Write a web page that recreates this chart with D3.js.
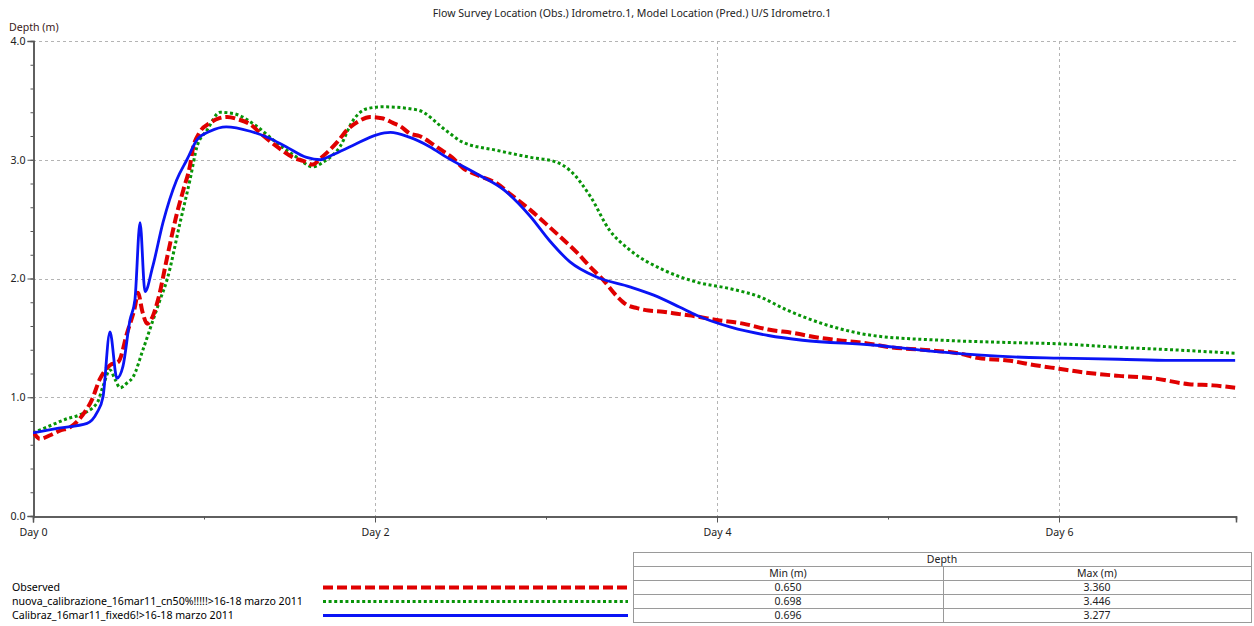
<!DOCTYPE html>
<html><head><meta charset="utf-8">
<script src="https://cdn.jsdelivr.net/npm/d3@7"></script>
<style>
body{margin:0;background:#fff;}
svg{display:block;font-family:"Noto Sans","Open Sans",sans-serif;}
</style></head>
<body><svg id="c" width="1254" height="626"></svg>
<script>
const titleText = "Flow Survey Location (Obs.) Idrometro.1, Model Location (Pred.) U/S Idrometro.1";
const yLabel = "Depth (m)";
const xTickDays = [0, 2, 4, 6];
const xTickLabels = ["Day 0", "Day 2", "Day 4", "Day 6"];
const yTickValues = [0, 1, 2, 3, 4];
const yTickLabels = ["0.0", "1.0", "2.0", "3.0", "4.0"];
const seriesNames = ["Observed", "nuova_calibrazione_16mar11_cn50%!!!!!>16-18 marzo 2011", "Calibraz_16mar11_fixed6!>16-18 marzo 2011"];
const tableMin = ["0.650", "0.698", "0.696"];
const tableMax = ["3.360", "3.446", "3.277"];

const obsDays  = [0,0.04,0.1,0.16,0.22,0.29,0.345,0.39,0.45,0.5,0.55,0.596,0.614,0.64,0.667,0.7,0.731,0.789,0.842,0.88,0.918,0.936,0.97,1.035,1.09,1.135,1.2,1.269,1.34,1.427,1.52,1.58,1.637,1.68,1.719,1.78,1.836,1.9,1.971,2.04,2.105,2.15,2.205,2.26,2.339,2.4,2.45,2.515,2.6,2.713,2.8,2.906,3.0,3.099,3.18,3.257,3.333,3.415,3.47,3.532,3.6,3.684,3.78,3.883,4.0,4.152,4.3,4.45,4.6,4.71,4.85,5.02,5.2,5.41,5.53,5.7,5.86,6.0,6.14,6.35,6.55,6.76,6.9,7.03];
const obsDepth = [0.71,0.65,0.68,0.72,0.75,0.85,0.98,1.15,1.27,1.3,1.54,1.76,1.88,1.72,1.62,1.68,1.82,2.21,2.55,2.75,2.95,3.1,3.22,3.31,3.35,3.36,3.34,3.3,3.21,3.11,3.02,2.99,2.96,3.01,3.06,3.15,3.25,3.32,3.36,3.35,3.31,3.28,3.22,3.2,3.13,3.07,3.02,2.93,2.87,2.8,2.7,2.58,2.46,2.33,2.22,2.1,1.99,1.85,1.78,1.75,1.73,1.72,1.7,1.68,1.65,1.62,1.57,1.54,1.5,1.48,1.46,1.42,1.4,1.37,1.33,1.31,1.27,1.24,1.21,1.18,1.16,1.11,1.1,1.08];

const nuovaDays  = [0,0.1,0.2,0.27,0.374,0.409,0.45,0.48,0.509,0.55,0.585,0.643,0.702,0.743,0.784,0.86,0.918,0.959,1.018,1.094,1.17,1.31,1.427,1.544,1.637,1.696,1.795,1.871,1.953,2.047,2.246,2.421,2.51,2.71,2.91,3.06,3.14,3.26,3.37,3.49,3.69,3.88,4.09,4.26,4.4,4.5,4.71,4.91,5.32,5.73,6.0,6.35,6.66,7.03];
const nuovaDepth = [0.7,0.76,0.82,0.85,0.95,1.09,1.23,1.15,1.08,1.12,1.17,1.4,1.65,1.82,1.99,2.47,2.83,3.11,3.25,3.4,3.39,3.28,3.14,3.02,2.94,2.98,3.11,3.33,3.43,3.446,3.42,3.24,3.15,3.08,3.02,2.98,2.91,2.69,2.41,2.24,2.07,1.97,1.91,1.84,1.74,1.68,1.58,1.52,1.48,1.46,1.45,1.42,1.4,1.37];

const calibDays  = [0,0.15,0.316,0.374,0.409,0.45,0.491,0.526,0.567,0.596,0.626,0.655,0.7,0.76,0.84,0.9,0.96,1.035,1.13,1.27,1.37,1.48,1.6,1.68,1.75,1.87,2.01,2.09,2.2,2.32,2.42,2.61,2.75,2.91,3.02,3.14,3.3,3.49,3.63,3.78,3.88,4.08,4.3,4.5,4.91,5.32,5.73,6.0,6.35,6.66,7.03];
const calibDepth = [0.7,0.74,0.78,0.87,1.0,1.55,1.16,1.26,1.65,1.82,2.47,1.89,2.1,2.47,2.83,3.0,3.17,3.24,3.277,3.24,3.19,3.11,3.02,3.0,3.04,3.12,3.21,3.23,3.19,3.11,3.02,2.87,2.75,2.52,2.32,2.14,2.01,1.93,1.86,1.76,1.69,1.59,1.52,1.48,1.44,1.38,1.34,1.33,1.32,1.31,1.31];

const svg = d3.select("#c");
const L = 33, R = 1236, T = 41, B = 516;
const x = d3.scaleLinear().domain([0, 7.035]).range([L, R]);
const y = d3.scaleLinear().domain([0, 4]).range([B, T]);
const textCol = "#222";
const fs = "10.6px";
const ff = "Noto Sans, Open Sans, sans-serif";

svg.append("text").attr("x", 632).attr("y", 17).attr("text-anchor", "middle")
  .attr("font-size", fs).attr("fill", textCol).text(titleText);
svg.append("text").attr("x", 9).attr("y", 31).attr("font-size", fs).attr("fill", "#3a2020").text(yLabel);

const grid = svg.append("g").attr("stroke", "#b4b4b4").attr("stroke-dasharray", "3,3").attr("stroke-width", 1);
[1, 2, 3, 4].forEach(v => grid.append("line").attr("x1", L).attr("x2", R).attr("y1", Math.round(y(v)) + 0.5).attr("y2", Math.round(y(v)) + 0.5));
[2, 4, 6].forEach(d => grid.append("line").attr("x1", Math.round(x(d)) + 0.5).attr("x2", Math.round(x(d)) + 0.5).attr("y1", T).attr("y2", B));

const yAxisMinor = d3.axisLeft(y).tickValues(d3.range(0, 4.01, 0.2)).tickSize(3).tickFormat("");
const gyM = svg.append("g").attr("transform", `translate(${L + 0.5},0)`).call(yAxisMinor);
const yAxis = d3.axisLeft(y).tickValues(yTickValues).tickSize(6).tickFormat((d, i) => yTickLabels[i]);
const gy = svg.append("g").attr("transform", `translate(${L + 0.5},0)`).call(yAxis);
const xAxisMinor = d3.axisBottom(x).tickValues([1, 3, 5, 7.035]).tickSize(3).tickFormat("");
const gxM = svg.append("g").attr("transform", `translate(0,${B + 0.5})`).call(xAxisMinor);
const xAxis = d3.axisBottom(x).tickValues(xTickDays).tickSize(6).tickFormat((d, i) => xTickLabels[i]);
const gx = svg.append("g").attr("transform", `translate(0,${B + 0.5})`).call(xAxis);
[gyM, gy, gxM, gx].forEach(g => {
  g.selectAll(".domain").attr("stroke", "#555").attr("stroke-width", 1.5);
  g.selectAll(".tick line").attr("stroke", "#555");
  g.selectAll("text").attr("font-size", fs).attr("fill", textCol).attr("font-family", ff);
});
gy.selectAll("text").attr("dx", "1px");
gx.selectAll("text").attr("dy", "0.95em");

svg.append("clipPath").attr("id", "clip").append("rect").attr("x", L).attr("y", T - 5).attr("width", R - L).attr("height", B - T + 5);

const styles = [
  {col: "#e00000", w: 4, dash: "10,4"},
  {col: "#089408", w: 3, dash: "3,2.6"},
  {col: "#0a14f5", w: 2.8, dash: null}
];
const seriesData = [
  d3.zip(obsDays, obsDepth),
  d3.zip(nuovaDays, nuovaDepth),
  d3.zip(calibDays, calibDepth)
];
const line = d3.line().x(d => x(d[0])).y(d => y(d[1])).curve(d3.curveMonotoneX);
const plot = svg.append("g").attr("clip-path", "url(#clip)");
[1, 0, 2].forEach(i => {
  plot.append("path").datum(seriesData[i]).attr("d", line)
    .attr("fill", "none").attr("stroke", styles[i].col).attr("stroke-width", styles[i].w)
    .attr("stroke-dasharray", styles[i].dash).attr("stroke-linejoin", "round");
});

const legY = [587, 601, 615];
seriesNames.forEach((n, i) => {
  svg.append("text").attr("x", 12).attr("y", legY[i] + 4).attr("font-size", fs).attr("fill", "#000").text(n);
  svg.append("line").attr("x1", 323).attr("x2", 628).attr("y1", legY[i] + 0.5).attr("y2", legY[i] + 0.5)
    .attr("stroke", styles[i].col).attr("stroke-width", styles[i].w).attr("stroke-dasharray", styles[i].dash);
});

const tL = 633, tR = 1251, tM = 943, rowTop = [552, 566, 580, 594, 608, 622];
const tb = svg.append("g");
tb.append("rect").attr("x", tL + 0.5).attr("y", rowTop[0] + 0.5).attr("width", tR - tL).attr("height", rowTop[5] - rowTop[0])
  .attr("fill", "#fff").attr("stroke", "#9a9a9a");
rowTop.slice(1, 5).forEach(r => tb.append("line").attr("x1", tL).attr("x2", tR).attr("y1", r + 0.5).attr("y2", r + 0.5).attr("stroke", "#9a9a9a"));
tb.append("line").attr("x1", tM + 0.5).attr("x2", tM + 0.5).attr("y1", rowTop[1]).attr("y2", rowTop[5]).attr("stroke", "#9a9a9a");
const cellText = (cx, r, t) => tb.append("text").attr("x", cx).attr("y", r + 11).attr("text-anchor", "middle")
  .attr("font-size", "10.5px").attr("fill", textCol).text(t);
cellText((tL + tR) / 2, rowTop[0], "Depth");
cellText((tL + tM) / 2, rowTop[1], "Min (m)");
cellText((tM + tR) / 2, rowTop[1], "Max (m)");
tableMin.forEach((v, i) => { cellText((tL + tM) / 2, rowTop[2 + i], v); cellText((tM + tR) / 2, rowTop[2 + i], tableMax[i]); });
</script></body></html>
